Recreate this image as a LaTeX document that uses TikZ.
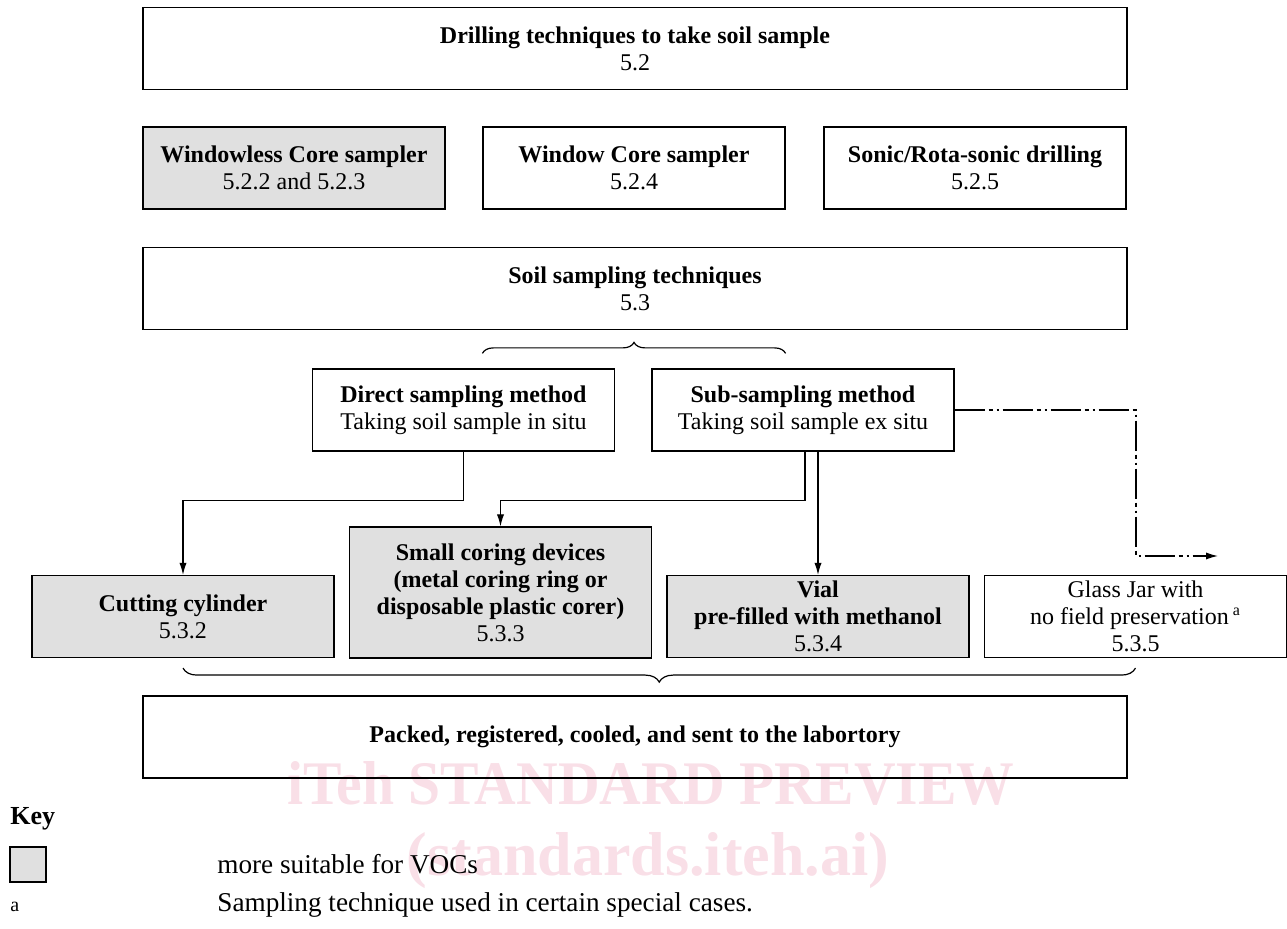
\documentclass[tikz,border=0pt]{standalone}
\usepackage{fontspec}
\setmainfont{Liberation Serif}
\usetikzlibrary{arrows.meta,decorations.pathreplacing,calc}
\definecolor{vocgray}{RGB}{224,224,224}
\definecolor{wmpink}{RGB}{249,223,231}

\begin{document}
\begin{tikzpicture}[x=0.5pt,y=-0.5pt,
	box/.style={draw, line width=0.6pt, align=center, inner sep=2pt, font=\fontsize{12}{13.5}\selectfont, minimum height=41pt},
	wide/.style={box, minimum width=492pt},
	mid/.style={box, minimum width=151pt},
	voc/.style={fill=vocgray},
	arr/.style={line width=0.6pt, -{Latex[length=6pt,width=3.6pt]}},
	dashdotdot/.style={line width=0.65pt, dash pattern=on 15pt off 2pt on 2pt off 2pt on 1pt off 2pt},
	curly/.style={line width=0.6pt, decorate, decoration={brace, amplitude=#1}},
	watermark/.style={anchor=base, text=wmpink, font=\fontsize{31}{36}\selectfont\bfseries},
	keytext/.style={anchor=base west, inner sep=0pt, font=\fontsize{13.6}{16}\selectfont}]
	\useasboundingbox (0,0) rectangle (1287,929);

	\node[watermark] (wmtop) at (651,805) {\scalebox{0.93}[1]{iTeh STANDARD PREVIEW}};
	\node[watermark] (wmbottom) at (648,876) {(standards.iteh.ai)};

	\node[wide] (drill) at (635,48.5) {\textbf{Drilling techniques to take soil sample} \\ 5.2};
	\node[mid, voc] (wless) at (294,168) {\textbf{Windowless Core sampler} \\ 5.2.2 and 5.2.3};
	\node[mid] (wcore) at (634,168) {\textbf{Window Core sampler} \\ 5.2.4};
	\node[mid] (sonic) at (975,168) {\textbf{Sonic/Rota-sonic drilling} \\ 5.2.5};
	\node[wide] (soil) at (635,288.5) {\textbf{Soil sampling techniques} \\ 5.3};
	\node[mid] (direct) at (463.5,410) {\textbf{Direct sampling method} \\ Taking soil sample in situ};
	\node[mid] (sub) at (803,410) {\textbf{Sub-sampling method} \\ Taking soil sample ex situ};
	\node[mid, voc] (cut) at (183,616.5) {\textbf{Cutting cylinder} \\ 5.3.2};
	\node[mid, voc, minimum height=65.5pt] (coring) at (500.5,592.5) {\textbf{Small coring devices} \\ \textbf{(metal coring ring or} \\ \textbf{disposable plastic corer)} \\ 5.3.3};
	\node[mid, voc] (vial) at (818,616.5) {\textbf{Vial} \\ \textbf{pre-filled with methanol} \\ 5.3.4};
	\node[mid] (jar) at (1135.5,616.5) {Glass Jar with \\ no field preservation\,\textsuperscript{a} \\ 5.3.5};
	\node[wide] (packed) at (635,737) {\textbf{Packed, registered, cooled, and sent to the labortory}};

	\draw[curly=5.5pt] ($(wcore.west |- direct.north)+(0,-15)$) -- ($(wcore.east |- direct.north)+(0,-15)$);
	\draw[curly=7pt] ($(jar.south)+(0,10)$) -- ($(cut.south)+(0,10)$);

	\draw[arr] (direct.south) -- ++(0,49) -| (cut.north);
	\draw[arr] ([xshift=1pt]sub.south) -- ++(0,49) -| (coring.north);
	\draw[arr] (sub.south -| vial.north) -- (vial.north);
	\coordinate (jarturn) at (1136,556);
	\coordinate (jarend) at (1218,556);
	\draw[dashdotdot, -{Latex[length=6pt,width=3.6pt]}] (sub.east) -| (jarturn) -- (jarend);

	\node[keytext, font=\fontsize{13}{16}\selectfont\bfseries] (key) at (10,825) {Key};
	\node[draw, line width=0.6pt, fill=vocgray, minimum width=18pt, minimum height=17.5pt, inner sep=0pt] (keybox) at (28,864.5) {};
	\node[keytext] (keyvoc) at (217,874) {more suitable for VOCs};
	\node[keytext, font=\fontsize{10}{12}\selectfont] (keya) at (10,912) {a};
	\node[keytext] (keyspecial) at (217,912) {Sampling technique used in certain special cases.};
\end{tikzpicture}
\end{document}
